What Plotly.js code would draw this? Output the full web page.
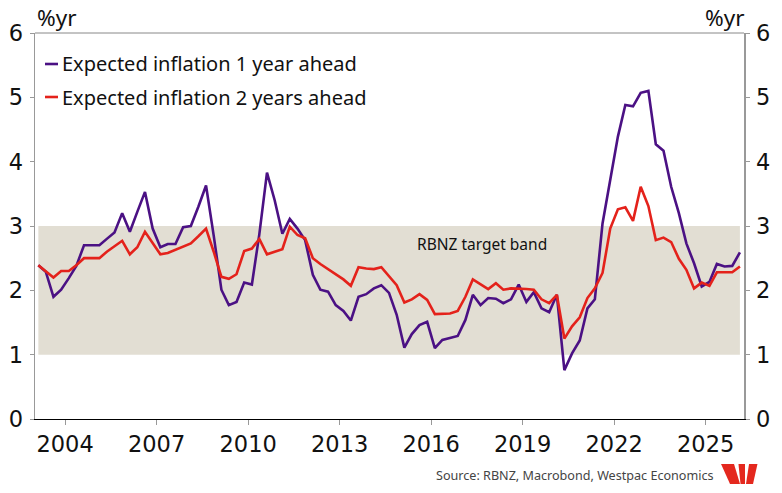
<!DOCTYPE html>
<html>
<head>
<meta charset="utf-8">
<script src="https://cdn.plot.ly/plotly-3.0.1.min.js"></script>
<style>
html,body{margin:0;padding:0;background:#fff;}
#chart{width:782px;height:493px;}
</style>
</head>
<body>
<div id="chart"></div>
<script>
// Quarterly RBNZ survey dates (Feb, May, Aug, Nov)
const surveyDates = [
'2003-02-15','2003-05-15','2003-08-15','2003-11-15',
'2004-02-15','2004-05-15','2004-08-15','2004-11-15',
'2005-02-15','2005-05-15','2005-08-15','2005-11-15',
'2006-02-15','2006-05-15','2006-08-15','2006-11-15',
'2007-02-15','2007-05-15','2007-08-15','2007-11-15',
'2008-02-15','2008-05-15','2008-08-15','2008-11-15',
'2009-02-15','2009-05-15','2009-08-15','2009-11-15',
'2010-02-15','2010-05-15','2010-08-15','2010-11-15',
'2011-02-15','2011-05-15','2011-08-15','2011-11-15',
'2012-02-15','2012-05-15','2012-08-15','2012-11-15',
'2013-02-15','2013-05-15','2013-08-15','2013-11-15',
'2014-02-15','2014-05-15','2014-08-15','2014-11-15',
'2015-02-15','2015-05-15','2015-08-15','2015-11-15',
'2016-02-15','2016-05-15','2016-08-15','2016-11-15',
'2017-02-15','2017-05-15','2017-08-15','2017-11-15',
'2018-02-15','2018-05-15','2018-08-15','2018-11-15',
'2019-02-15','2019-05-15','2019-08-15','2019-11-15',
'2020-02-15','2020-05-15','2020-08-15','2020-11-15',
'2021-02-15','2021-05-15','2021-08-15','2021-11-15',
'2022-02-15','2022-05-15','2022-08-15','2022-11-15',
'2023-02-15','2023-05-15','2023-08-15','2023-11-15',
'2024-02-15','2024-05-15','2024-08-15','2024-11-15',
'2025-02-15','2025-05-15','2025-08-15','2025-11-15',
'2026-02-15'
];

const expected1yr = [
2.39,2.29,1.90,2.01, 2.19,2.38,2.70,2.70, 2.70,2.80,2.90,3.20,
2.91,3.22,3.53,2.96, 2.67,2.72,2.72,2.98, 3.00,3.30,3.63,2.85,
2.01,1.77,1.82,2.12, 2.09,2.87,3.83,3.40, 2.88,3.11,2.96,2.78,
2.24,2.01,1.98,1.77, 1.68,1.53,1.90,1.94, 2.03,2.08,1.96,1.62,
1.11,1.32,1.46,1.51, 1.10,1.23,1.26,1.29, 1.54,1.93,1.77,1.88,
1.87,1.80,1.86,2.09, 1.82,1.97,1.72,1.66, 1.93,0.76,1.02,1.22,
1.72,1.86,3.04,3.75, 4.39,4.88,4.86,5.07, 5.10,4.27,4.17,3.61,
3.20,2.73,2.42,2.06, 2.13,2.41,2.37,2.38, 2.59
];

const expected2yr = [
2.39,2.30,2.20,2.30, 2.30,2.39,2.50,2.50, 2.50,2.60,2.69,2.77,
2.56,2.67,2.91,2.74, 2.56,2.58,2.63,2.69, 2.73,2.84,2.96,2.60,
2.21,2.18,2.25,2.61, 2.65,2.80,2.56,2.60, 2.64,2.99,2.86,2.81,
2.50,2.41,2.33,2.26, 2.17,2.07,2.36,2.34, 2.33,2.36,2.22,2.08,
1.81,1.86,1.94,1.85, 1.63,1.63,1.64,1.68, 1.90,2.17,2.10,2.02,
2.11,2.01,2.03,2.03, 2.02,2.01,1.86,1.80, 1.93,1.25,1.44,1.58,
1.88,2.03,2.27,2.96, 3.26,3.29,3.08,3.61, 3.31,2.78,2.82,2.75,
2.49,2.32,2.03,2.12, 2.07,2.28,2.28,2.28, 2.37
];

const seriesNames = ['Expected inflation 1 year ahead','Expected inflation 2 years ahead'];
const seriesColors = ['#4b1184','#e4221b'];
const targetBand = [1, 3];
const yTicks = [0,1,2,3,4,5,6];
const xTickVals = ['2004-01-01','2007-01-01','2010-01-01','2013-01-01','2016-01-01','2019-01-01','2022-01-01','2025-01-01'];
const xTickText = ['2004','2007','2010','2013','2016','2019','2022','2025'];

const tickFont = {family:'DejaVu Sans, sans-serif', size:22.5, color:'#111'};
const textFont = 'Noto Sans, sans-serif';

const traces = [
  {x: surveyDates, y: expected1yr, type:'scatter', mode:'lines', name: seriesNames[0],
   line:{color: seriesColors[0], width:2.6}, showlegend:false, hoverinfo:'skip'},
  {x: surveyDates, y: expected2yr, type:'scatter', mode:'lines', name: seriesNames[1],
   line:{color: seriesColors[1], width:2.6}, showlegend:false, hoverinfo:'skip'},
  {x: [surveyDates[0]], y: [null], yaxis:'y2', type:'scatter', mode:'lines', showlegend:false, hoverinfo:'skip'}
];

// plot-area pixel helpers for decorations
const L = 35, R = 38, T = 33, B = 74, W = 782, H = 493;
const pw = W - L - R, ph = H - T - B;
const px = v => (v - L) / pw;
const py = v => (H - B - v) / ph;

const logoPath = (pts) => 'M ' + pts.map(p => px(p[0]).toFixed(4) + ',' + py(p[1]).toFixed(4)).join(' L ') + ' Z';

const layout = {
  width: W, height: H,
  margin: {l: L, r: R, t: T, b: B},
  paper_bgcolor: '#fff', plot_bgcolor: '#fff',
  showlegend: false,
  xaxis: {
    type:'date',
    range:['2003-01-06','2026-04-05'],
    tickvals: xTickVals, ticktext: xTickText,
    ticks:'outside', ticklen:5, tickcolor:'#999', tickwidth:1,
    showline:true, linecolor:'#000', linewidth:1,
    showgrid:false, zeroline:false,
    tickfont: tickFont
  },
  yaxis: {
    range:[0,6], tickvals: yTicks,
    ticks:'outside', ticklen:4, tickcolor:'#999',
    showline:true, linecolor:'#999', linewidth:1.5,
    showgrid:false, zeroline:false,
    tickfont: tickFont, ticklabelstandoff: 2
  },
  yaxis2: {
    range:[0,6], tickvals: yTicks, overlaying:'y', side:'right',
    ticks:'outside', ticklen:4, tickcolor:'#999',
    showline:true, linecolor:'#999', linewidth:1.5,
    showgrid:false, zeroline:false,
    tickfont: tickFont, ticklabelstandoff: 2
  },
  shapes: [
    {type:'rect', xref:'x', yref:'y', layer:'below',
     x0: surveyDates[0], x1: surveyDates[surveyDates.length-1],
     y0: targetBand[0], y1: targetBand[1],
     fillcolor:'#e2ded3', line:{width:0}},
    {type:'line', xref:'paper', yref:'paper', x0:0, x1:1, y0:1, y1:1,
     line:{color:'#888', width:1}},
    {type:'line', xref:'paper', yref:'paper', x0:px(45), x1:px(58), y0:py(64), y1:py(64),
     line:{color: seriesColors[0], width:2.6}},
    {type:'line', xref:'paper', yref:'paper', x0:px(45), x1:px(58), y0:py(97), y1:py(97),
     line:{color: seriesColors[1], width:2.6}},
    {type:'path', xref:'paper', yref:'paper', fillcolor:'#e4281e', line:{width:0},
     path: logoPath([[721,464],[734,464],[740,484],[730,484]])},
    {type:'path', xref:'paper', yref:'paper', fillcolor:'#e4281e', line:{width:0},
     path: logoPath([[738.5,464],[745,464],[745,484],[740.5,484]])},
    {type:'path', xref:'paper', yref:'paper', fillcolor:'#e4281e', line:{width:0},
     path: logoPath([[749,464],[757.5,464],[753,484],[746,484]])}
  ],
  annotations: [
    {xref:'paper', yref:'paper', x:px(35), y:py(17), xanchor:'left', yanchor:'middle',
     text:'%yr', showarrow:false, font:{family:textFont, size:22.5, color:'#111'}},
    {xref:'paper', yref:'paper', x:px(746), y:py(17), xanchor:'right', yanchor:'middle',
     text:'%yr', showarrow:false, font:{family:textFont, size:22.5, color:'#111'}},
    {xref:'paper', yref:'paper', x:px(60), y:py(64), xanchor:'left', yanchor:'middle',
     text: seriesNames[0], showarrow:false, font:{family:textFont, size:20, color:'#111'}},
    {xref:'paper', yref:'paper', x:px(60), y:py(97), xanchor:'left', yanchor:'middle',
     text: seriesNames[1], showarrow:false, font:{family:textFont, size:20, color:'#111'}},
    {xref:'paper', yref:'paper', x:px(482), y:py(244), xanchor:'center', yanchor:'middle',
     text:'RBNZ target band', showarrow:false, font:{family:textFont, size:15.5, color:'#111'}},
    {xref:'paper', yref:'paper', x:px(716), y:py(475), xanchor:'right', yanchor:'middle',
     text:'Source: RBNZ, Macrobond, Westpac Economics', showarrow:false,
     font:{family:textFont, size:12.6, color:'#444'}}
  ]
};

Plotly.newPlot('chart', traces, layout, {displayModeBar:false, staticPlot:true});
</script>
</body>
</html>
